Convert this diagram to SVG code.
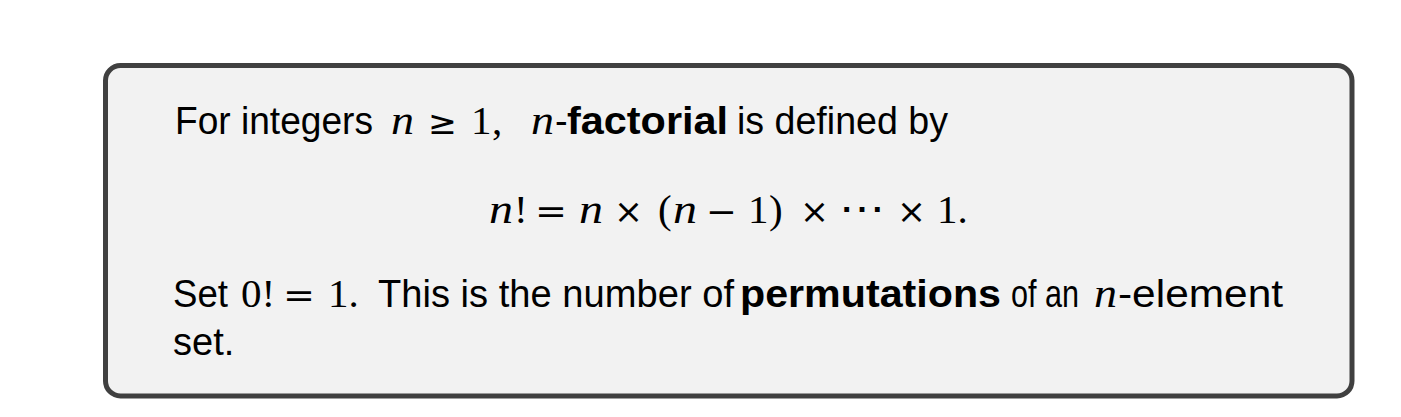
<svg xmlns="http://www.w3.org/2000/svg" width="1401" height="417" viewBox="0 0 1401 417">
<style>
.s{font-family:"Liberation Sans",Arial,sans-serif;font-size:38px;fill:#000}
.b{font-family:"Liberation Sans",Arial,sans-serif;font-size:38px;font-weight:bold;fill:#000}
.m{font-family:"Liberation Serif","Times New Roman",serif;font-size:41px;fill:#000}
.mi{font-family:"Liberation Serif","Times New Roman",serif;font-size:41px;font-style:italic;fill:#000}
.op{font-family:"DejaVu Sans",sans-serif;font-size:33px;fill:#000}
</style>
<rect width="1401" height="417" fill="#ffffff"/>
<g id="definition-box">
<rect x="105.5" y="65.5" width="1246.5" height="330.5" rx="15" ry="15" fill="#f2f2f2" stroke="#404040" stroke-width="5"/>
<g id="line1">
<text class="s" x="175" y="134" textLength="198" lengthAdjust="spacingAndGlyphs">For integers</text>
<text class="mi" x="391" y="134" textLength="23" lengthAdjust="spacingAndGlyphs">n</text>
<text class="op" x="428" y="134" textLength="29" lengthAdjust="spacingAndGlyphs">≥</text>
<text class="m" x="471" y="134">1</text>
<text class="m" x="492" y="134">,</text>
<text class="mi" x="531" y="134" textLength="23" lengthAdjust="spacingAndGlyphs">n</text>
<text class="s" x="555" y="134">-</text>
<text class="b" x="567" y="134" textLength="161" lengthAdjust="spacingAndGlyphs">factorial</text>
<text class="s" x="737" y="134" textLength="211" lengthAdjust="spacingAndGlyphs">is defined by</text>
</g>
<g id="line2">
<text class="mi" x="489" y="223" textLength="24" lengthAdjust="spacingAndGlyphs">n</text>
<text class="m" x="514" y="223">!</text>
<text class="op" x="535" y="223" textLength="32" lengthAdjust="spacingAndGlyphs">=</text>
<text class="mi" x="579" y="223" textLength="24" lengthAdjust="spacingAndGlyphs">n</text>
<text class="op" x="614" y="223" textLength="29" lengthAdjust="spacingAndGlyphs">×</text>
<text class="m" x="658" y="223">(</text>
<text class="mi" x="673" y="223" textLength="24" lengthAdjust="spacingAndGlyphs">n</text>
<text class="op" x="706" y="223" textLength="31" lengthAdjust="spacingAndGlyphs">−</text>
<text class="m" x="748" y="223">1</text>
<text class="m" x="769" y="223">)</text>
<text class="op" x="800" y="223" textLength="29" lengthAdjust="spacingAndGlyphs">×</text>
<text class="m" x="839" y="223" textLength="46" lengthAdjust="spacingAndGlyphs">⋯</text>
<text class="op" x="897" y="223" textLength="29" lengthAdjust="spacingAndGlyphs">×</text>
<text class="m" x="937" y="223">1.</text>
</g>
<g id="line3">
<text class="s" x="173" y="307" textLength="55" lengthAdjust="spacingAndGlyphs">Set</text>
<text class="m" x="241" y="307">0!</text>
<text class="op" x="283" y="307" textLength="32" lengthAdjust="spacingAndGlyphs">=</text>
<text class="m" x="328" y="307">1.</text>
<text class="s" x="378" y="307" textLength="356" lengthAdjust="spacingAndGlyphs">This is the number of</text>
<text class="b" x="740" y="307" textLength="261" lengthAdjust="spacingAndGlyphs">permutations</text>
<text class="s" x="1011" y="307" textLength="68" lengthAdjust="spacingAndGlyphs">of an</text>
<text class="mi" x="1094" y="307" textLength="23" lengthAdjust="spacingAndGlyphs">n</text>
<text class="s" x="1118" y="307" textLength="165" lengthAdjust="spacingAndGlyphs">-element</text>
</g>
<g id="line4">
<text class="s" x="173" y="355">set.</text>
</g>
</g>
</svg>
